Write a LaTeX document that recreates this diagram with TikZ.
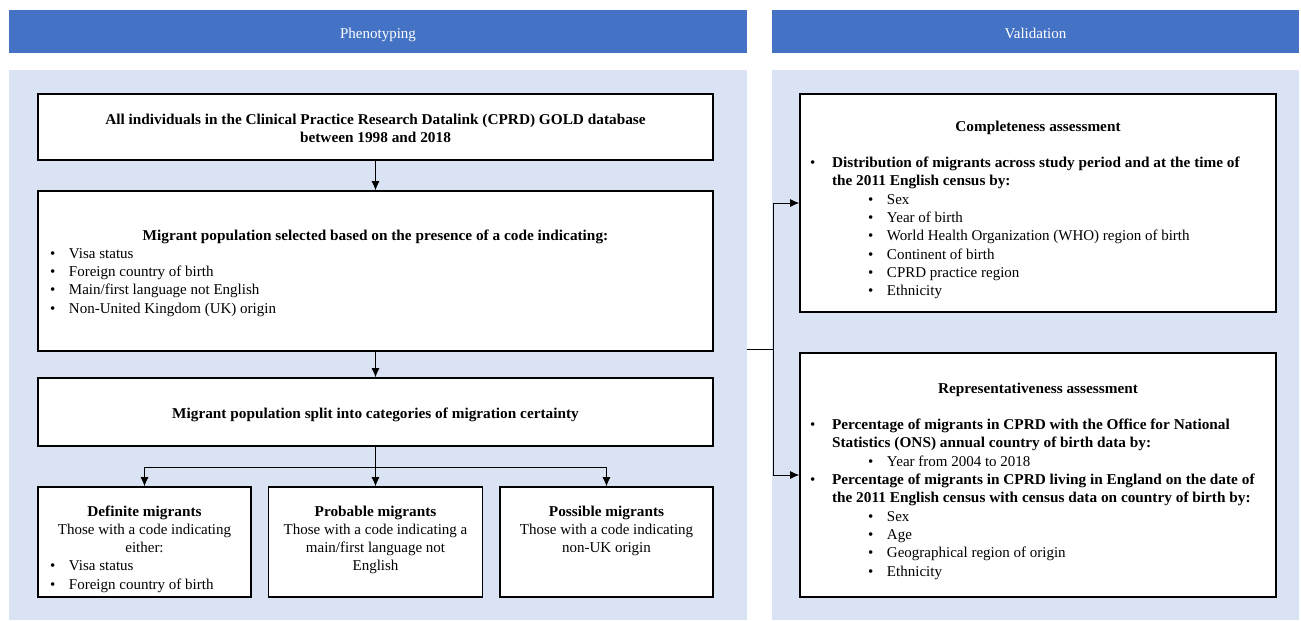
\documentclass[tikz,border=0pt]{standalone}
\usepackage{fontspec}
\setmainfont{Liberation Serif}[BoldFeatures={FakeStretch=1.02}]
\usetikzlibrary{arrows.meta}
\setlength{\parindent}{0pt}
\definecolor{hdrblue}{RGB}{68,114,196}
\definecolor{panelblue}{RGB}{218,227,243}
\newcommand{\boxtext}[4]{\parbox[c][#2][t]{#1}{\raggedright\vspace*{#3}\strut#4}}
\newcommand{\bpt}[3]{\par\hangindent=\dimexpr#1+#2\relax\hangafter=1\noindent\hspace*{#1}\makebox[#2][l]{\textbullet}#3}
\newcommand{\litm}[1]{\bpt{12pt}{19pt}{#1}}
\newcommand{\bitm}[1]{\bpt{10pt}{22pt}{\textbf{#1}}}
\newcommand{\sitm}[1]{\bpt{68pt}{19pt}{#1}}
\tikzset{
  header/.style={fill=hdrblue,text=white,minimum height=43pt,inner sep=0pt,text height=13pt,text depth=0pt},
  panel/.style={fill=panelblue,inner sep=0pt,minimum height=550pt},
  box/.style={draw,line width=1.6pt,fill=white,inner sep=0pt},
  link/.style={line width=0.9pt}
}
\begin{document}
\begin{tikzpicture}[x=1pt,y=-1pt,font=\fontsize{15}{18.3}\selectfont,>={Latex[length=9pt,width=8pt]}]
  \useasboundingbox (0,0) rectangle (1301,621);
  \node[header,minimum width=738pt] (hpheno) at (378,31.5) {Phenotyping};
  \node[header,minimum width=527pt] (hvalid) at (1035.5,31.5) {Validation};
  \node[panel,minimum width=738pt] (pheno) at (378,345) {};
  \node[panel,minimum width=527pt] (valid) at (1035.5,345) {};

  \node[box] (cprd) at (375.5,127) {\boxtext{675pt}{66pt}{17.2pt}{\centering
    \textbf{All individuals in the Clinical Practice Research Datalink (CPRD) GOLD database}\\
    \textbf{between 1998 and 2018}}};
  \node[box] (select) at (375.5,271) {\boxtext{675pt}{160pt}{36.2pt}{%
    {\centering\bfseries Migrant population selected based on the presence of a code indicating:\par}%
    \litm{Visa status}\litm{Foreign country of birth}\litm{Main/first language not English}\litm{Non-United Kingdom (UK) origin}}};
  \node[box] (cats) at (375.5,412) {\boxtext{675pt}{68pt}{27.2pt}{\centering
    \textbf{Migrant population split into categories of migration certainty}}};
  \node[box] (definite) at (144.5,542) {\boxtext{213pt}{110pt}{16.2pt}{%
    {\centering\textbf{Definite migrants}\\Those with a code indicating\\either:\par}%
    \litm{Visa status}\litm{Foreign country of birth}}};
  \node[box] (probable) at (375.5,542) {\boxtext{214pt}{110pt}{16.2pt}{\centering
    \textbf{Probable migrants}\\Those with a code indicating a\\main/first language not\\English}};
  \node[box] (possible) at (606.5,542) {\boxtext{213pt}{110pt}{16.2pt}{\centering
    \textbf{Possible migrants}\\Those with a code indicating\\non-UK origin}};

  \node[box] (complete) at (1038,203) {\boxtext{476pt}{218pt}{24.2pt}{%
    {\centering\bfseries Completeness assessment\par}\vspace{18.3pt}%
    \bitm{Distribution of migrants across study period and at the time of\newline the 2011 English census by:}%
    \sitm{Sex}\sitm{Year of birth}\sitm{World Health Organization (WHO) region of birth}%
    \sitm{Continent of birth}\sitm{CPRD practice region}\sitm{Ethnicity}}};
  \node[box] (repres) at (1038,475) {\boxtext{476pt}{244pt}{27.2pt}{%
    {\centering\bfseries Representativeness assessment\par}\vspace{18.3pt}%
    \bitm{Percentage of migrants in CPRD with the Office for National\newline Statistics (ONS) annual country of birth data by:}%
    \sitm{Year from 2004 to 2018}%
    \bitm{Percentage of migrants in CPRD living in England on the date of\newline the 2011 English census with census data on country of birth by:}%
    \sitm{Sex}\sitm{Age}\sitm{Geographical region of origin}\sitm{Ethnicity}}};

  \coordinate (fork) at (773.5,349);
  \begin{scope}[link]
    \draw[->] (cprd) -- (select);
    \draw[->] (select) -- (cats);
    \draw[->] (cats) -- (probable);
    \draw[->] (cats.south) -- ++(0,21) -| (definite);
    \draw[->] (cats.south) -- ++(0,21) -| (possible);
    \draw (pheno.east |- fork) -- (fork);
    \draw[->] (fork) |- (complete);
    \draw[->] (fork) |- (repres);
  \end{scope}
\end{tikzpicture}
\end{document}
